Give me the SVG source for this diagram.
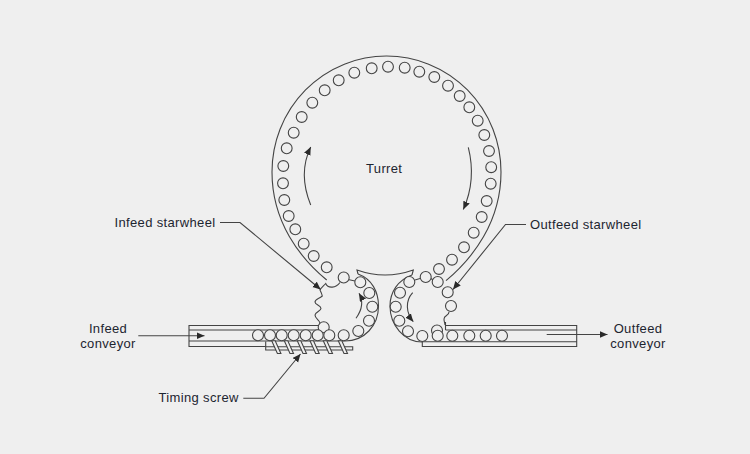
<svg xmlns="http://www.w3.org/2000/svg" width="750" height="454" viewBox="0 0 750 454">
<style>
.l{fill:none;stroke:#444;stroke-width:1.1}
.b circle{fill:#efefef;stroke:#444;stroke-width:1.1}
.big circle{r:5.4px}
.small circle{r:5.5px}
.a{fill:none;stroke:#444;stroke-width:1.1;marker-end:url(#h)}
text{font-family:"Liberation Sans",Arial,sans-serif;font-size:13px;fill:#1d2530;letter-spacing:.35px}
.m{text-anchor:middle}
.f{fill:#efefef;stroke:#444;stroke-width:1.1}
</style>
<defs>
<marker id="h" markerUnits="userSpaceOnUse" markerWidth="10" markerHeight="8" refX="8" refY="3.5" orient="auto"><path d="M0,0L8,3.5L0,7Z" fill="#2a2a2a"/></marker>
</defs>
<rect width="750" height="454" fill="#efefef"/>
<g id="turret">
<path class="l" d="M326.7,280C300,258 272,222 272,172A114.5,116 0 0 1 501,172C501,222 473,258 446,280.7"/>
<g class="b big">
<circle cx="388" cy="66.7"/><circle cx="371.7" cy="68.3"/><circle cx="354.3" cy="72.7"/><circle cx="338.7" cy="80.3"/><circle cx="324.7" cy="90.3"/><circle cx="312.3" cy="102.7"/><circle cx="301.7" cy="117"/><circle cx="293.7" cy="132.7"/><circle cx="286.7" cy="148.3"/><circle cx="283.3" cy="166"/><circle cx="283" cy="183.3"/><circle cx="284.3" cy="200"/><circle cx="288.7" cy="216"/><circle cx="295.3" cy="229.3"/><circle cx="303.7" cy="243.7"/><circle cx="313.7" cy="256"/><circle cx="326.7" cy="267.3"/>
<circle cx="404.7" cy="67.7"/><circle cx="419.3" cy="71.7"/><circle cx="434.3" cy="77"/><circle cx="448" cy="85.7"/><circle cx="459.7" cy="96"/><circle cx="469.3" cy="107.3"/><circle cx="477.7" cy="120.7"/><circle cx="484.3" cy="135"/><circle cx="489" cy="151"/><circle cx="491.2" cy="167.2"/><circle cx="490.7" cy="183.7"/><circle cx="486.7" cy="201"/><circle cx="481.7" cy="217"/><circle cx="473.7" cy="232.7"/><circle cx="464" cy="247.3"/><circle cx="452" cy="259.7"/><circle cx="439" cy="269"/>
</g>
<path class="a" d="M310.7,205C303,186 302,165 310.7,147"/>
<path class="a" d="M468.3,147.3C474,170 472,190 463.3,209.5"/>
<text x="366" y="172.5">Turret</text>
<path class="l" d="M358,274L357,270Q385,280 413.3,270L412,275"/>
</g>
<g id="infeed-conveyor">
<path class="l" d="M318,325.5H189V346.5H265.7M189,330H318M189,341H345"/>
<text class="m" x="108" y="333">Infeed</text>
<text class="m" x="108" y="348">conveyor</text>
</g>
<g id="timing-screw">
<path class="l" d="M265.7,341.5V350H352.7V346.7H265.7"/>
<g class="f">
<path d="M271.7,340.7H275.2L280.9,353.5H277.4Z"/><path d="M284.3,340.7H287.8L293.5,353.5H290Z"/><path d="M297.3,340.7H300.8L306.5,353.5H303Z"/><path d="M310,340.7H313.5L319.2,353.5H315.7Z"/><path d="M323.3,340.7H326.8L332.5,353.5H329Z"/><path d="M338.3,340.7H341.8L347.5,353.5H344Z"/>
</g>
</g>
<g id="infeed-starwheel">
<path class="l" d="M358,274C372,279 378.5,292 378.5,306C378.5,326 364,341 345,341"/>
<path class="l" d="M348,279.5L355,281M340,282.5C336,288 328,289 325.7,283.5C323.5,286 321,288 320,290C321,292 322,294 322.3,296C319,299 315,299 315,302C315,305 321,305 321,308.5C321,311 315,312 315,315C315,319 320,320 320,323.3"/>
<g class="b small">
<circle cx="323.7" cy="327.3"/><circle cx="343.7" cy="277.5"/><circle cx="360.3" cy="282.3"/><circle cx="369.3" cy="293"/><circle cx="372.3" cy="306.7"/><circle cx="369" cy="320.7"/><circle cx="358.3" cy="331"/><circle cx="343.7" cy="335.3"/><circle cx="329.3" cy="335.3"/><circle cx="317.7" cy="335.3"/><circle cx="305.7" cy="335.3"/><circle cx="293.7" cy="335.3"/><circle cx="281.7" cy="335.3"/><circle cx="270" cy="335.3"/><circle cx="258" cy="335.3"/>
</g>
<path class="a" d="M356,318.3C362,310 364,302 359,293.3"/>
</g>
<g id="outfeed-conveyor">
<path class="l" d="M445.5,322V330M445.5,325.5H576.7V346.5H422.3V341.7H576.7M445.5,330H576.7"/>
<text class="m" x="638" y="332.7">Outfeed</text>
<text class="m" x="638" y="347.7">conveyor</text>
</g>
<g id="outfeed-starwheel">
<path class="l" d="M412,275C398,280 390,292 390,306C390,325 404,342 422,342"/>
<path class="l" d="M415,280L420,278.5M431,278.5L433,280M449,312C449,316 444,315 444,319C444,322 445,323 445,325"/>
<g class="b small">
<circle cx="437" cy="330.5"/><circle cx="425.7" cy="277"/><circle cx="409.3" cy="282"/><circle cx="400" cy="292.7"/><circle cx="395.7" cy="306.7"/><circle cx="399.3" cy="320.7"/><circle cx="408" cy="331.3"/><circle cx="422.3" cy="336"/><circle cx="437.7" cy="335.7"/><circle cx="452.3" cy="335.7"/><circle cx="469.3" cy="335.7"/><circle cx="485.7" cy="335.7"/><circle cx="502" cy="335.7"/><circle cx="437.7" cy="282"/><circle cx="447.7" cy="292.3"/><circle cx="451" cy="306"/>
</g>
<path class="a" d="M412.7,292.7C405,301 406,313 413.3,321.7"/>
</g>
<g id="labels">
<text x="114.5" y="226.5">Infeed starwheel</text>
<text x="530" y="228.5">Outfeed starwheel</text>
<text x="158.5" y="401.7">Timing screw</text>
</g>
<g id="connectors">
<path class="a" d="M220,222.5H240L320.7,289.5"/>
<path class="a" d="M526,224.5H505.5L453,289.5"/>
<path class="a" d="M243.3,398.3H264L300.5,354"/>
<path class="a" d="M138.3,335.7H204.5"/>
<path class="a" d="M546.7,334.5H607.5"/>
</g>
</svg>
